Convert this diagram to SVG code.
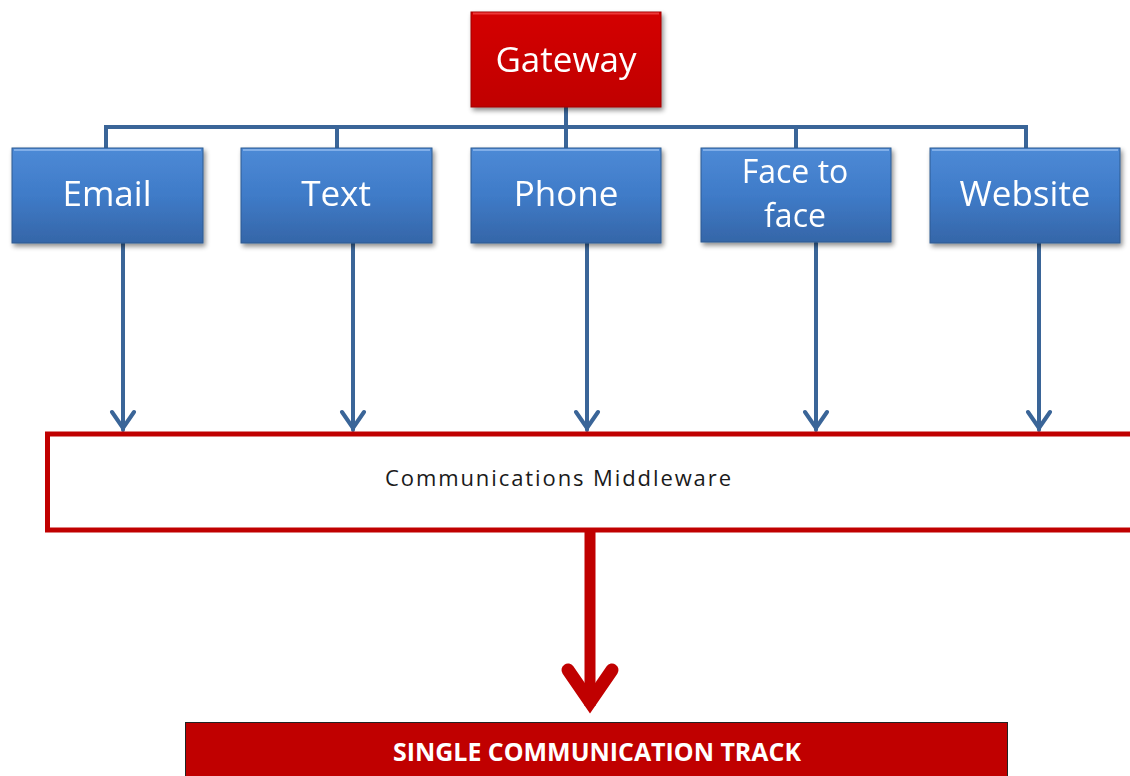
<svg xmlns="http://www.w3.org/2000/svg" width="1130" height="776" viewBox="0 0 1130 776">
<defs>
<linearGradient id="gBlue" x1="0" y1="0" x2="0" y2="1">
<stop offset="0" stop-color="#4d8ad6"/>
<stop offset="0.5" stop-color="#3f7bc8"/>
<stop offset="1" stop-color="#3566a8"/>
</linearGradient>
<linearGradient id="gRed" x1="0" y1="0" x2="0" y2="1">
<stop offset="0" stop-color="#d40000"/>
<stop offset="1" stop-color="#c00000"/>
</linearGradient>
<filter id="sh" x="-10%" y="-10%" width="125%" height="130%">
<feGaussianBlur in="SourceAlpha" stdDeviation="2.5"/>
<feOffset dx="2" dy="3" result="b"/>
<feComponentTransfer><feFuncA type="linear" slope="0.45"/></feComponentTransfer>
<feMerge><feMergeNode/><feMergeNode in="SourceGraphic"/></feMerge>
</filter>
</defs>
<style>
.box{fill:url(#gBlue);stroke:#2f5b91;stroke-width:1;}
.hl{fill:none;stroke:#8db8ec;stroke-width:2;opacity:0.8;}
.lbl{font-family:"Open Sans","Liberation Sans",sans-serif;font-size:35px;fill:#ffffff;text-anchor:middle;}
.con{fill:none;stroke:#3a6598;stroke-width:4;}
.arr{fill:none;stroke:#3a6598;stroke-width:4;stroke-linecap:round;stroke-linejoin:round;}
</style>
<rect width="1130" height="776" fill="#ffffff"/>

<g id="connectors">
<path class="con" d="M566,107 V127 M106,127 H1026 M106,125 V148 M337,125 V148 M566,127 V148 M796,125 V148 M1026,125 V148"/>
<path class="arr" d="M123,243 V430 M112,412 L123,428 L134,412"/>
<path class="arr" d="M353,243 V430 M342,412 L353,428 L364,412"/>
<path class="arr" d="M587,243 V430 M576,412 L587,428 L598,412"/>
<path class="arr" d="M816,243 V430 M805,412 L816,428 L827,412"/>
<path class="arr" d="M1039,243 V430 M1028,412 L1039,428 L1050,412"/>
<path d="M590,532 V706" fill="none" stroke="#c00000" stroke-width="11"/>
<path d="M568,670 L590,702 L612,670" fill="none" stroke="#c00000" stroke-width="13" stroke-linecap="round" stroke-linejoin="miter"/>
</g>

<g id="gateway" filter="url(#sh)">
<rect x="471" y="12" width="190" height="95" fill="url(#gRed)" stroke="#a00000" stroke-width="1"/>
<path d="M473,13.5 H659" stroke="#ff6060" stroke-width="2" opacity="0.6"/>
<text class="lbl" x="566" y="72">Gateway</text>
</g>

<g id="email" filter="url(#sh)">
<rect class="box" x="12" y="148" width="191" height="95"/>
<path class="hl" d="M14,150 H201"/>
<text class="lbl" x="107" y="206">Email</text>
</g>
<g id="text" filter="url(#sh)">
<rect class="box" x="241" y="148" width="191" height="95"/>
<path class="hl" d="M243,150 H430"/>
<text class="lbl" x="336" y="206">Text</text>
</g>
<g id="phone" filter="url(#sh)">
<rect class="box" x="471" y="148" width="190" height="95"/>
<path class="hl" d="M473,150 H659"/>
<text class="lbl" x="566" y="206">Phone</text>
</g>
<g id="facetoface" filter="url(#sh)">
<rect class="box" x="701" y="148" width="190" height="94"/>
<path class="hl" d="M703,150 H889"/>
<text class="lbl" x="795" y="183" font-size="32" style="font-size:32px">Face to</text>
<text class="lbl" x="795" y="227" font-size="32" style="font-size:32px">face</text>
</g>
<g id="website" filter="url(#sh)">
<rect class="box" x="930" y="148" width="190" height="95"/>
<path class="hl" d="M932,150 H1118"/>
<text class="lbl" x="1025" y="206">Website</text>
</g>

<g id="middleware">
<rect x="47.5" y="434" width="1100" height="96" fill="#ffffff" stroke="#c00000" stroke-width="5"/>
<text x="385" y="486" textLength="346" lengthAdjust="spacing" font-family="'Open Sans','Liberation Sans',sans-serif" font-size="22" fill="#1a1a1a">Communications Middleware</text>
</g>

<g id="track">
<rect x="185.5" y="722.5" width="822" height="60" fill="#c00000" stroke="#222222" stroke-width="1"/>
<text x="393" y="761" textLength="408" lengthAdjust="spacingAndGlyphs" font-family="'Open Sans','Liberation Sans',sans-serif" font-size="25" font-weight="bold" fill="#ffffff">SINGLE COMMUNICATION TRACK</text>
</g>
</svg>
